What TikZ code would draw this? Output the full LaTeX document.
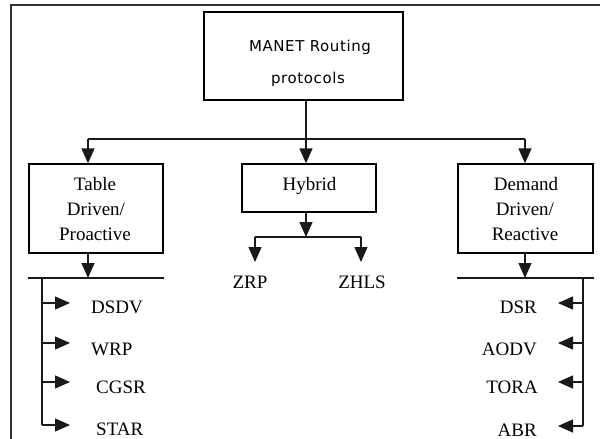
\documentclass[tikz,border=0pt]{standalone}
\usepackage{fontspec}
\setmainfont{Liberation Serif}
\newfontfamily\manetfont[LetterSpace=4]{DejaVu Sans}
\usetikzlibrary{arrows.meta}
\begin{document}
\begin{tikzpicture}[x=1pt,y=-1pt,
  box/.style={draw=black, line width=1.3pt, inner sep=0pt, rectangle},
  txt/.style={inner sep=0pt, anchor=base, font=\fontsize{19}{25}\selectfont},
  ltxt/.style={txt, anchor=base west},
  rtxt/.style={txt, anchor=base east},
  mtxt/.style={inner sep=0pt, anchor=base, font=\manetfont\fontsize{15}{18}\selectfont},
  conn/.style={draw=black!90, line width=1.3pt},
  arr/.style={conn, -{Triangle[length=15pt,width=13pt]}},
  frameline/.style={draw=black!80, line width=1.8pt}
]
\useasboundingbox (0,0) rectangle (600,439);
% outer frame (only top and left visible)
\draw[frameline] (11,439) -- (11,5) -- (600,5);

% boxes
\node[box, minimum width=199pt, minimum height=88pt] (root) at (303.5,56) {};
\node[box, minimum width=134pt, minimum height=89pt] (table) at (96,208.5) {};
\node[box, minimum width=134pt, minimum height=48pt] (hybrid) at (309,188) {};
\node[box, minimum width=135pt, minimum height=89pt] (demand) at (525.5,208.5) {};

% box texts
\node[mtxt] (rootA) at (310,51) {MANET Routing};
\node[mtxt] (rootB) at (308,83) {protocols};
\node[txt] (tabA) at (95,190) {Table};
\node[txt] (tabB) at (96,215) {Driven/};
\node[txt] (tabC) at (95,240) {Proactive};
\node[txt] (hybA) at (309.5,190) {Hybrid};
\node[txt] (demA) at (526,190) {Demand};
\node[txt] (demB) at (525,215) {Driven/};
\node[txt] (demC) at (525,240) {Reactive};

% top bus
\coordinate (busL) at (88,139);
\coordinate (busM) at (306,139);
\coordinate (busR) at (525,139);
\draw[conn] (busL) -- (busR);
\draw[conn] (root.south -| busM) -- (busM);
\draw[arr] (busL) -- (busL |- table.north);
\draw[arr] (busM) -- (busM |- hybrid.north);
\draw[arr] (busR) -- (busR |- demand.north);

% hybrid branch
\coordinate (hbus) at (306,237);
\coordinate (hbL) at (255,237);
\coordinate (hbR) at (361,237);
\coordinate (zrpTip) at (255,262);
\coordinate (zhlsTip) at (361,262);
\draw[arr] (hybrid.south -| hbus) -- (hbus);
\draw[conn] (hbL) -- (hbR);
\draw[arr] (hbL) -- (zrpTip);
\draw[arr] (hbR) -- (zhlsTip);
\node[txt] (zrp) at (250,288) {ZRP};
\node[txt] (zhls) at (362,288) {ZHLS};

% table driven branch
\coordinate (tbus) at (88,278);
\coordinate (tv) at (42,278);
\coordinate (tvEnd) at (42,425);
\draw[arr] (table.south -| tbus) -- (tbus);
\draw[conn] (table.west |- tbus) -- (table.east |- tbus);
\draw[conn] (tv) -- (tvEnd);
\coordinate (t1) at (42,303); \coordinate (t1e) at (70,303);
\coordinate (t2) at (42,343); \coordinate (t2e) at (70,343);
\coordinate (t3) at (42,382); \coordinate (t3e) at (70,382);
\coordinate (t4e) at (70,425);
\draw[arr] (t1) -- (t1e);
\draw[arr] (t2) -- (t2e);
\draw[arr] (t3) -- (t3e);
\draw[arr] (tvEnd) -- (t4e);
\node[ltxt] (dsdv) at (91,313) {DSDV};
\node[ltxt] (wrp) at (91,355) {WRP};
\node[ltxt] (cgsr) at (96,393) {CGSR};
\node[ltxt] (star) at (96,435) {STAR};

% demand driven branch
\coordinate (dbus) at (525,278);
\coordinate (dv) at (583,278);
\coordinate (dvEnd) at (583,426);
\draw[arr] (demand.south -| dbus) -- (dbus);
\draw[conn] (demand.west |- dbus) -- (demand.east |- dbus);
\draw[conn] (dv) -- (dvEnd);
\coordinate (d1) at (583,303); \coordinate (d1e) at (558,303);
\coordinate (d2) at (583,343); \coordinate (d2e) at (558,343);
\coordinate (d3) at (583,382); \coordinate (d3e) at (558,382);
\coordinate (d4e) at (558,426);
\draw[arr] (d1) -- (d1e);
\draw[arr] (d2) -- (d2e);
\draw[arr] (d3) -- (d3e);
\draw[arr] (dvEnd) -- (d4e);
\node[rtxt] (dsr) at (537,313) {DSR};
\node[rtxt] (aodv) at (537,355) {AODV};
\node[rtxt] (tora) at (538,393) {TORA};
\node[rtxt] (abr) at (537,436) {ABR};
\end{tikzpicture}
\end{document}
